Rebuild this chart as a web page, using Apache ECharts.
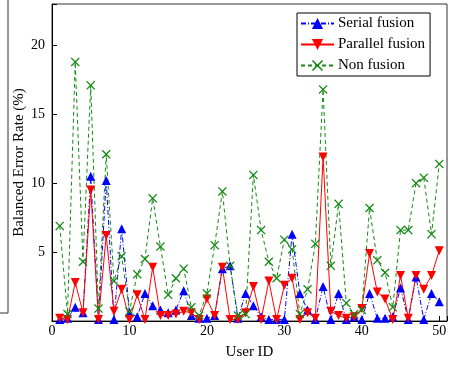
<!DOCTYPE html>
<html>
<head>
<meta charset="utf-8">
<script src="https://cdn.jsdelivr.net/npm/echarts@6/dist/echarts.min.js"></script>
<style>
  html, body { margin: 0; padding: 0; background: #fff; }
  #chart { width: 453px; height: 366px; }
</style>
</head>
<body>
<div id="chart"></div>
<script>
// 用户编号
const userIds = [1, 2, 3, 4, 5, 6, 7, 8, 9, 10,
  11, 12, 13, 14, 15, 16, 17, 18, 19, 20,
  21, 22, 23, 24, 25, 26, 27, 28, 29, 30,
  31, 32, 33, 34, 35, 36, 37, 38, 39, 40,
  41, 42, 43, 44, 45, 46, 47, 48, 49, 50]

// 三种方法的错误率 (%)
const serialFusion = [0.1, 0.2, 1.0, 0.6, 10.5, 0.1, 10.2, 0.1, 6.7, 0.6,
  0.3, 2.0, 1.1, 0.8, 0.6, 0.8, 2.2, 0.4, 0.2, 0.2,
  0.4, 3.8, 4.0, 0.2, 2.0, 1.1, 0.3, 0.1, 0.1, 0.1,
  6.3, 2.0, 0.8, 0.1, 2.5, 0.1, 2.0, 0.1, 0.3, 0.1,
  2.0, 0.2, 0.2, 0.3, 2.4, 0.1, 3.2, 0.1, 2.0, 1.4]

const parallelFusion = [0.2, 0.1, 2.8, 0.6, 9.5, 0.1, 6.2, 0.7, 2.3, 0.1,
  1.9, 0.1, 3.9, 0.4, 0.4, 0.5, 0.7, 0.6, 0.1, 1.6,
  0.4, 3.9, 0.1, 0.1, 0.6, 2.5, 0.1, 2.9, 0.1, 2.6,
  3.1, 0.1, 0.6, 0.2, 11.9, 0.7, 0.4, 0.2, 0.3, 0.9,
  4.9, 2.1, 1.6, 0.1, 3.3, 0.2, 3.3, 2.3, 3.3, 5.1]

const nonFusion = [6.9, 0.5, 18.8, 4.3, 17.1, 0.9, 12.1, 2.9, 4.7, 0.7,
  3.4, 4.5, 8.9, 5.4, 1.9, 3.1, 3.8, 1.0, 0.4, 2.0,
  5.5, 9.4, 4.0, 0.4, 0.5, 10.6, 6.6, 4.3, 3.1, 5.9,
  5.2, 0.5, 2.3, 5.6, 16.8, 4.0, 8.5, 1.3, 0.5, 0.8,
  8.2, 4.4, 3.5, 1.0, 6.6, 6.6, 10.0, 10.4, 6.3, 11.4]

const serifFont = '"Liberation Serif", "Times New Roman", serif'
// x 形标记
const crossPath = 'path://M0,1L1,0L5,4L9,0L10,1L6,5L10,9L9,10L5,6L1,10L0,9L4,5Z'

function pairs (vals) {
  return userIds.map((id, i) => [id, vals[i]])
}

let myChart = echarts.init(document.getElementById('chart'))
myChart.setOption({
  animation: false,
  backgroundColor: '#fff',
  textStyle: { fontFamily: serifFont },
  graphic: [{
    // 左侧残留的边框
    type: 'polyline',
    shape: { points: [[8, 0], [8, 313], [0, 313]] },
    style: { stroke: '#333', lineWidth: 1, fill: null }
  }],
  grid: {
    left: 52,
    right: 6,
    top: 4,
    bottom: 45,
    show: true,
    borderColor: '#333',
    borderWidth: 1
  },
  legend: {
    orient: 'vertical',
    left: 297,
    top: 13,
    padding: [3, 5, 3, 3],
    itemGap: 6,
    itemWidth: 33,
    itemHeight: 14,
    backgroundColor: '#fff',
    borderColor: '#000',
    borderWidth: 1,
    textStyle: { fontFamily: serifFont, fontSize: 15, color: '#000', padding: [0, 0, 0, -1] },
    data: ['Serial fusion', 'Parallel fusion', 'Non fusion']
  },
  xAxis: {
    type: 'value',
    min: 0,
    max: 51,
    interval: 10,
    name: 'User ID',
    nameLocation: 'middle',
    nameGap: 24,
    nameTextStyle: { fontFamily: serifFont, fontSize: 15, color: '#000' },
    axisLine: { lineStyle: { color: '#000' } },
    axisTick: { inside: true, length: 5, lineStyle: { color: '#000' } },
    axisLabel: {
      fontFamily: serifFont, fontSize: 14, color: '#000', margin: 3,
      formatter: v => (v % 10 === 0 ? String(v) : '')
    },
    splitLine: { show: false }
  },
  yAxis: {
    type: 'value',
    min: 0,
    max: 23,
    interval: 5,
    name: 'Balanced Error Rate (%)',
    nameLocation: 'middle',
    nameGap: 25,
    nameMoveOverlap: false,
    nameTextStyle: { fontFamily: serifFont, fontSize: 15, color: '#000' },
    axisLine: { show: true, lineStyle: { color: '#000' } },
    axisTick: { show: true, inside: true, length: 5, lineStyle: { color: '#000' } },
    axisLabel: {
      fontFamily: serifFont, fontSize: 14, color: '#000', margin: 7,
      formatter: v => (v > 0 && v % 5 === 0 ? String(v) : '')
    },
    splitLine: { show: false }
  },
  series: [{
    name: 'Serial fusion',
    type: 'line',
    data: pairs(serialFusion),
    symbol: 'triangle',
    symbolSize: 9,
    itemStyle: { color: '#0000ff' },
    lineStyle: { color: '#0000ff', width: 1, type: [5, 2, 1, 2] }
  }, {
    name: 'Parallel fusion',
    type: 'line',
    data: pairs(parallelFusion),
    symbol: 'triangle',
    symbolRotate: 180,
    symbolSize: 9,
    itemStyle: { color: '#ff0000' },
    lineStyle: { color: '#ff0000', width: 1 }
  }, {
    name: 'Non fusion',
    type: 'line',
    data: pairs(nonFusion),
    symbol: crossPath,
    symbolSize: 9,
    itemStyle: { color: '#138a13' },
    lineStyle: { color: '#138a13', width: 1, type: [4, 3] }
  }]
})
window.addEventListener('resize', function () {
  myChart.resize()
})
</script>
</body>
</html>
